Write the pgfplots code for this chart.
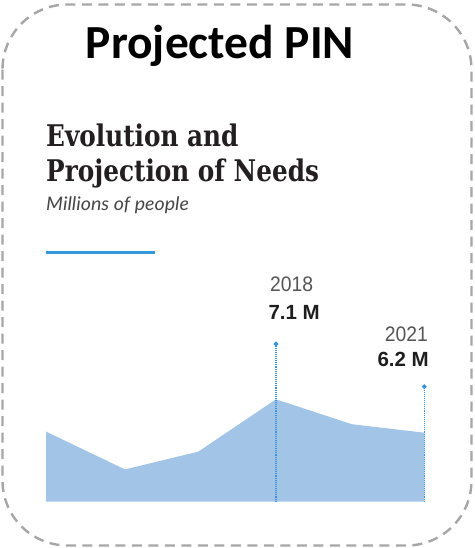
\documentclass[border=0pt]{standalone}
\usepackage{fontspec}
\usepackage{pgfplots}
\pgfplotsset{compat=1.18}
\setmainfont{Liberation Sans}
\newfontfamily\titlefont{Carlito}
\newfontfamily\headfont[FakeStretch=0.83]{DejaVu Serif}
\newfontfamily\subfont[FakeStretch=1.05]{Lato}
\newfontfamily\yearfont[FakeStretch=0.92]{Liberation Sans}
\newfontfamily\valfont{Liberation Sans}
\definecolor{areablue}{RGB}{162,196,230}
\definecolor{dotblue}{RGB}{58,146,216}
\definecolor{lineblue}{RGB}{52,152,219}
\definecolor{bordergray}{RGB}{166,166,166}
\definecolor{headcol}{RGB}{35,31,32}
\definecolor{subcol}{RGB}{70,70,70}
\definecolor{yearcol}{RGB}{85,85,85}
\definecolor{valcol}{RGB}{30,30,30}
\begin{document}
\begin{tikzpicture}
\useasboundingbox (0,0) rectangle (475bp,-548bp);
\draw[bordergray, line width=2.4bp, dash pattern=on 10bp off 6.5bp, rounded corners=65bp]
  (2.5bp,-4.5bp) rectangle (471.5bp,-545.5bp);
\node[anchor=base, inner sep=0pt, font=\titlefont\bfseries\fontsize{47.5bp}{50bp}\selectfont] at (220bp,-58.3bp) {Projected PIN};
\node[anchor=base west, inner sep=0pt, text=headcol, font=\headfont\bfseries\fontsize{29.8bp}{34bp}\selectfont] at (46bp,-146.7bp) {Evolution and};
\node[anchor=base west, inner sep=0pt, text=headcol, font=\headfont\bfseries\fontsize{29.8bp}{34bp}\selectfont] at (46bp,-181bp) {Projection of Needs};
\node[anchor=base west, inner sep=0pt, text=subcol, font=\subfont\itshape\fontsize{18.7bp}{22bp}\selectfont] at (46bp,-210.7bp) {Millions of people};
\draw[lineblue, line width=3bp] (46bp,-252bp) -- (155bp,-252bp);
\begin{axis}[
  at={(46bp,-501.7bp)}, anchor=south west,
  scale only axis, width=378.3bp, height=160bp,
  xmin=0, xmax=5, ymin=4.34, ymax=8.653,
  axis lines=none, ticks=none, clip=false,
]
\addplot[fill=areablue, draw=none] coordinates {
  (0,6.23) (1.044,5.21) (2.013,5.69) (3.04,7.10) (4.04,6.43) (5,6.20)
} \closedcycle;
\addplot[dotblue, line width=1.1bp, densely dotted, mark=*, mark size=1.8bp, mark indices={2}, mark options={solid, fill=dotblue, draw=dotblue}] coordinates {(3.04,4.34) (3.04,8.59)};
\addplot[dotblue, line width=1.1bp, densely dotted, mark=*, mark size=1.8bp, mark indices={2}, mark options={solid, fill=dotblue, draw=dotblue}] coordinates {(5,4.34) (5,7.44)};
\end{axis}
\node[anchor=base west, inner sep=0pt, text=yearcol, font=\yearfont\fontsize{21bp}{24bp}\selectfont] at (270bp,-291.7bp) {2018};
\node[anchor=base west, inner sep=0pt, text=valcol, font=\valfont\bfseries\fontsize{20.5bp}{24bp}\selectfont] at (268.3bp,-319bp) {7.1 M};
\node[anchor=base east, inner sep=0pt, text=yearcol, font=\yearfont\fontsize{21bp}{24bp}\selectfont] at (428bp,-341.7bp) {2021};
\node[anchor=base east, inner sep=0pt, text=valcol, font=\valfont\bfseries\fontsize{20.5bp}{24bp}\selectfont] at (429bp,-366.7bp) {6.2 M};
\end{tikzpicture}
\end{document}
